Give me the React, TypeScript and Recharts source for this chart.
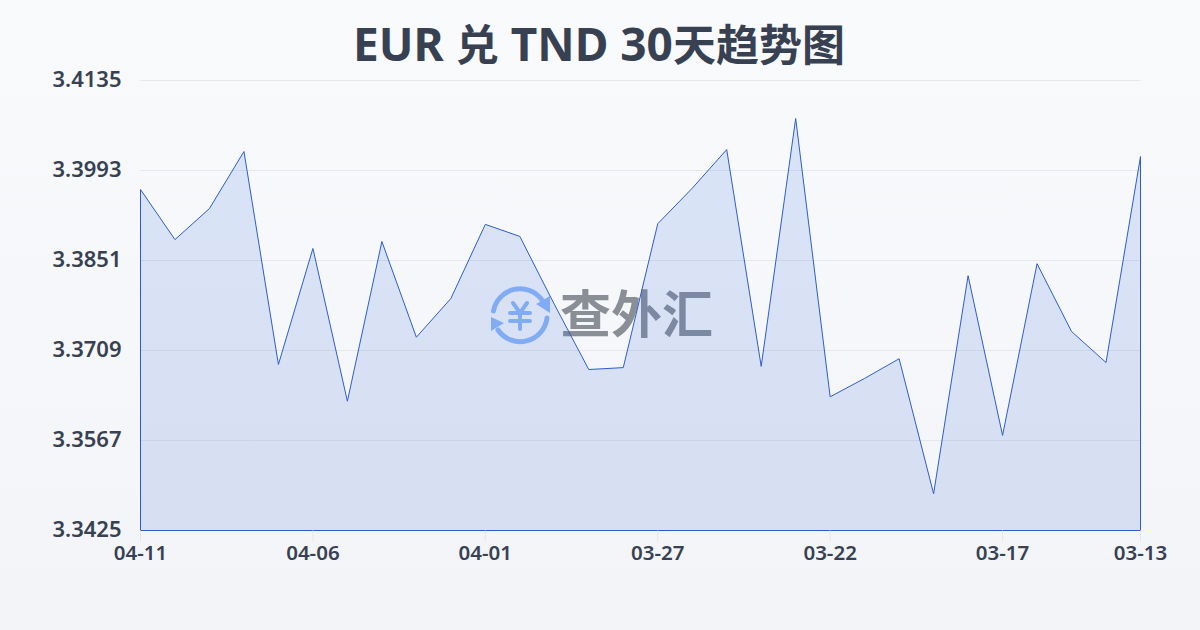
import { AreaChart, Area, XAxis, YAxis, CartesianGrid, ReferenceLine } from "recharts"

const dates = [
	"04-11", "04-10", "04-09", "04-08", "04-07", "04-06", "04-05", "04-04", "04-03", "04-02",
	"04-01", "03-31", "03-30", "03-29", "03-28", "03-27", "03-26", "03-25", "03-24", "03-23",
	"03-22", "03-21", "03-20", "03-19", "03-18", "03-17", "03-16", "03-15", "03-14", "03-13",
]
const rates = [
	3.3963, 3.3884, 3.3933, 3.4023, 3.3687, 3.387, 3.3629, 3.3881, 3.373, 3.3791,
	3.3908, 3.3889, 3.3782, 3.3679, 3.3682, 3.3909, 3.3965, 3.4026, 3.3684, 3.4075,
	3.3636, 3.3665, 3.3696, 3.3483, 3.3827, 3.3575, 3.3846, 3.3739, 3.369, 3.4015,
]
const xTicks = ["04-11", "04-06", "04-01", "03-27", "03-22", "03-17", "03-13"]
const yTicks = [3.3425, 3.3567, 3.3709, 3.3851, 3.3993, 3.4135]

const chartData = dates.map((date, i) => ({ date, rate: rates[i] }))

const LINE = "#2d5ec8"
const INK = "#374151"
const FONT = '"Noto Sans", "Noto Sans CJK SC", sans-serif'
const CJK_FONT = '"Noto Sans CJK SC", sans-serif'
const Y_MIN = yTicks[0]
const Y_MAX = yTicks[yTicks.length - 1]

function Watermark() {
	return (
		<svg width={260} height={90} style={{ position: "absolute", left: 480, top: 270 }}>
			<g fill="none" stroke="#8fb8f8" strokeWidth={5} strokeLinecap="round">
				<path d="M 13.5 41 A 27 27 0 0 1 62 30" />
				<path d="M 67 48 A 27 27 0 0 1 18 60" />
				<path d="M 33 33 L 40 43 L 47 33 M 40 43 L 40 59 M 30 43 L 50 43 M 30 51 L 50 51" strokeWidth={4} />
			</g>
			<path d="M 70 26 L 70 43 L 56 34 Z" fill="#8fb8f8" />
			<path d="M 11 47 L 11 61 L 24 53 Z" fill="#8fb8f8" />
			<text x={80} y={63} fontSize={51} fontWeight={700} fill="#8a8e97" style={{ fontFamily: CJK_FONT }}>
				查外汇
			</text>
		</svg>
	)
}

export default function App() {
	const cjk = { fontFamily: CJK_FONT, fontSize: 43 }
	return (
		<div
			style={{
				position: "absolute",
				left: 0,
				top: 0,
				width: 1200,
				height: 630,
				overflow: "hidden",
				background: "linear-gradient(180deg, #f9fafc 0%, #f3f4f7 100%)",
				fontFamily: FONT,
			}}
		>
			<div
				style={{
					position: "absolute",
					left: -1,
					top: 12,
					width: 1200,
					textAlign: "center",
					fontSize: 46,
					lineHeight: "60px",
					fontWeight: 700,
					color: INK,
					whiteSpace: "pre",
				}}
			>
				EUR <span style={cjk}>兑</span> TND 30<span style={cjk}>天趋势图</span>
			</div>
			<Watermark />
			<div style={{ position: "absolute", left: 0, top: 0 }}>
				<AreaChart
					width={1200}
					height={630}
					data={chartData}
					margin={{ top: 80.5, right: 59.5, bottom: 0, left: 0 }}
				>
					<defs>
						<linearGradient id="areaFill" x1="0" y1="0" x2="0" y2="1">
							<stop offset="0%" stopColor="#3b76e8" stopOpacity={0.16} />
							<stop offset="100%" stopColor="#2f5fd0" stopOpacity={0.15} />
						</linearGradient>
					</defs>
					<CartesianGrid horizontal vertical={false} stroke="#e5e7eb" strokeWidth={1} />
					<XAxis
						dataKey="date"
						ticks={xTicks}
						interval={0}
						height={99.5}
						axisLine={false}
						tickSize={11}
						tickLine={{ stroke: "#e5e7eb" }}
						tickMargin={4}
						tick={{ fill: INK, fontSize: 20.5, fontWeight: 600, fontFamily: FONT }}
					/>
					<YAxis
						domain={[Y_MIN, Y_MAX]}
						ticks={yTicks}
						interval={0}
						width={140.5}
						axisLine={false}
						tickLine={false}
						tickMargin={13}
						tickFormatter={(v: number) => v.toFixed(4)}
						tick={{ fill: INK, fontSize: 22, fontWeight: 600, fontFamily: FONT, dy: -1 }}
					/>
					<Area
						type="linear"
						dataKey="rate"
						stroke={LINE}
						strokeWidth={1}
						fill="url(#areaFill)"
						fillOpacity={1}
						isAnimationActive={false}
						dot={false}
						activeDot={false}
					/>
					<ReferenceLine
						ifOverflow="visible"
						segment={[
							{ x: dates[0], y: Y_MIN },
							{ x: dates[0], y: rates[0] },
						]}
						stroke={LINE}
						strokeWidth={1}
					/>
					<ReferenceLine
						ifOverflow="visible"
						segment={[
							{ x: dates[29], y: Y_MIN },
							{ x: dates[29], y: rates[29] },
						]}
						stroke={LINE}
						strokeWidth={1}
					/>
					<ReferenceLine ifOverflow="visible" y={Y_MIN} stroke={LINE} strokeWidth={1} />
				</AreaChart>
			</div>
		</div>
	)
}
